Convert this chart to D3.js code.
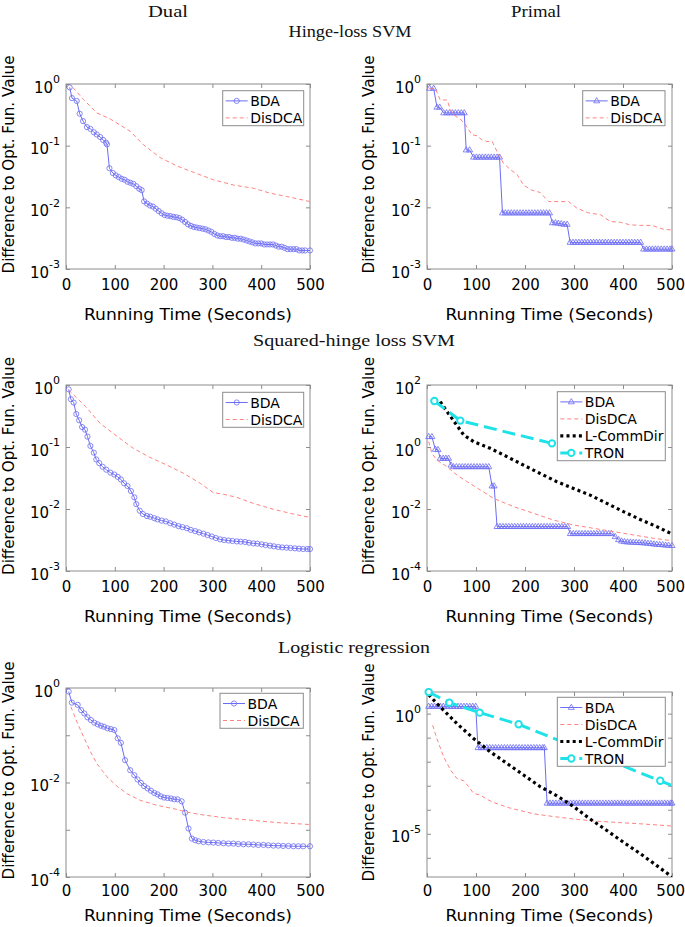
<!DOCTYPE html>
<html><head><meta charset="utf-8">
<script src="https://cdn.jsdelivr.net/npm/d3@7"></script>
<style>body{margin:0;background:#fff}svg{display:block}</style>
</head><body>
<svg id="c" width="685" height="927"></svg>
<script>
// ---------------- DATA ----------------
const colTitles = ["Dual", "Primal"];
const rowTitles = ["Hinge-loss SVM", "Squared-hinge loss SVM", "Logistic regression"];
const xAxisLabel = "Running Time (Seconds)";
const yAxisLabel = "Difference to Opt. Fun. Value";
const xTicks = [0, 100, 200, 300, 400, 500];

// Hinge-loss SVM, dual
const hingeDualBDA = [[7.5,0.88],[12.3,0.59],[22,0.53],[28,0.33],[35,0.25],[43,0.20],[50,0.187],[57,0.165],[63,0.152],[70,0.138],[76,0.124],[82,0.112],[84,0.105],[89,0.043],[96,0.036],[102,0.033],[108,0.031],[114,0.029],[120,0.028],[126,0.026],[132,0.025],[138,0.024],[144,0.022],[150,0.020],[155,0.019],[160,0.0125],[166,0.0115],[172,0.0107],[178,0.0103],[184,0.0095],[190,0.0087],[196,0.0080],[202,0.0075],[208,0.0073],[214,0.0072],[220,0.0070],[226,0.0069],[232,0.0067],[238,0.0063],[244,0.0058],[250,0.0053],[256,0.0050],[262,0.0048],[268,0.0047],[274,0.0046],[280,0.0045],[286,0.0044],[292,0.0042],[298,0.0040],[304,0.0037],[310,0.0035],[316,0.0034],[322,0.0034],[328,0.0033],[334,0.0033],[340,0.0032],[346,0.0032],[352,0.0031],[358,0.0031],[364,0.0030],[370,0.0029],[376,0.0028],[382,0.0027],[388,0.0026],[394,0.0026],[400,0.0026],[406,0.0025],[412,0.0025],[418,0.0025],[424,0.0025],[430,0.0024],[436,0.0023],[442,0.0023],[448,0.0022],[454,0.0021],[460,0.0021],[466,0.0021],[472,0.0021],[478,0.0020],[484,0.0020],[490,0.0020],[500,0.0020]];
const hingeDualDisDCA = [[14,0.88],[36,0.56],[63,0.34],[91,0.27],[132,0.17],[159,0.103],[193,0.064],[227,0.047],[261,0.037],[302,0.028],[343,0.023],[384,0.0204],[418,0.017],[452,0.015],[500,0.0124]];

// Hinge-loss SVM, primal
const hingePrimalBDA = [[5.4,0.85],[13.6,0.85],[20.4,0.42],[25.9,0.42],[34,0.34],[40,0.34],[46,0.34],[52,0.34],[58,0.34],[64,0.34],[70,0.34],[76,0.34],[80,0.085],[87,0.085],[95,0.065],[101,0.065],[107,0.065],[113,0.065],[119,0.065],[125,0.065],[131,0.065],[137,0.065],[143,0.065],[148,0.065],[154,0.0081],[160,0.0081],[166,0.0081],[172,0.0081],[178,0.0081],[184,0.0081],[190,0.0081],[196,0.0081],[202,0.0081],[208,0.0081],[214,0.0081],[220,0.0081],[226,0.0081],[232,0.0081],[238,0.0081],[244,0.0081],[250,0.0081],[256,0.0056],[262,0.0056],[268,0.0055],[274,0.0054],[280,0.0053],[286,0.0053],[292,0.0027],[298,0.0027],[304,0.0027],[310,0.0027],[316,0.0027],[322,0.0027],[328,0.0027],[334,0.0027],[340,0.0027],[346,0.0027],[352,0.0027],[358,0.0027],[364,0.0027],[370,0.0027],[376,0.0027],[382,0.0027],[388,0.0027],[394,0.0027],[400,0.0027],[406,0.0027],[412,0.0027],[418,0.0027],[424,0.0027],[430,0.0027],[436,0.0027],[442,0.0021],[448,0.0021],[454,0.0021],[460,0.0021],[466,0.0021],[472,0.0021],[478,0.0021],[484,0.0021],[490,0.0021],[496,0.0021],[500,0.0021]];
const hingePrimalDisDCA = [[5.4,0.85],[17,0.85],[27,0.55],[41,0.55],[48,0.38],[58,0.30],[68,0.27],[78,0.22],[92,0.15],[102,0.145],[112,0.124],[122,0.117],[133,0.117],[143,0.080],[156,0.052],[170,0.041],[184,0.034],[197,0.023],[214,0.019],[231,0.0174],[248,0.0124],[272,0.0124],[289,0.0124],[306,0.0097],[330,0.0081],[354,0.0076],[374,0.0059],[395,0.0057],[415,0.0052],[435,0.0051],[459,0.0051],[483,0.0044],[500,0.0043]];

// Squared-hinge loss SVM, dual
const sqDualBDA = [[5.5,0.85],[10,0.59],[15.7,0.52],[21,0.34],[27,0.27],[33,0.21],[39,0.19],[44,0.147],[50,0.104],[57,0.081],[62,0.063],[68,0.055],[75,0.048],[82.5,0.043],[91,0.0386],[99,0.036],[106,0.033],[112.5,0.030],[119,0.026],[126,0.0235],[133,0.0195],[140,0.0154],[144,0.0120],[151,0.0094],[157.6,0.0083],[166,0.0077],[172.6,0.0075],[181,0.0071],[187.6,0.0068],[196,0.0065],[204.6,0.0063],[213.5,0.0059],[221.7,0.0056],[230.5,0.0053],[238.7,0.0051],[247.6,0.0049],[255.8,0.0046],[264.7,0.0044],[272.8,0.0042],[281.7,0.0040],[290,0.0038],[298.8,0.0036],[307,0.0034],[315.8,0.00324],[324,0.00316],[332.9,0.0031],[341,0.00305],[350,0.0030],[358,0.00297],[367,0.00294],[375,0.00286],[384,0.00279],[392,0.00276],[401,0.00269],[409,0.00262],[418,0.00256],[426,0.0025],[435,0.00244],[443,0.0024],[452,0.00238],[460,0.00235],[469,0.00232],[477.5,0.00229],[486,0.00226],[494.5,0.00226],[500,0.00226]];
const sqDualDisDCA = [[5.5,0.83],[40,0.45],[70,0.24],[104,0.15],[138,0.095],[172,0.068],[207,0.051],[241,0.0376],[275,0.026],[302,0.0183],[320,0.0175],[350,0.0154],[384,0.0123],[425,0.0099],[466,0.0083],[500,0.0073]];

// Squared-hinge loss SVM, primal
const sqPrimalBDA = [[3.4,2.15],[10,2.15],[17,0.84],[22.4,0.82],[27,0.43],[33,0.43],[38.5,0.43],[44,0.43],[49,0.26],[54,0.23],[60,0.23],[66,0.23],[72,0.23],[78,0.23],[84,0.23],[90,0.23],[96,0.23],[102,0.23],[108,0.23],[114,0.23],[120,0.23],[126,0.23],[132.7,0.055],[137,0.055],[143,0.0027],[149,0.0027],[155,0.0027],[161,0.0027],[167,0.0027],[173,0.0027],[179,0.0027],[185,0.0027],[191,0.0027],[197,0.0027],[203,0.0027],[209,0.0027],[215,0.0027],[221,0.0027],[227,0.0027],[233,0.0027],[239,0.0027],[245,0.0027],[251,0.0027],[257,0.0027],[263,0.0027],[269,0.0027],[275,0.0027],[281,0.0027],[287,0.0027],[292.5,0.0016],[298.5,0.0016],[304.5,0.0016],[310.5,0.0016],[316.5,0.0016],[322.5,0.0016],[328.5,0.0016],[334.5,0.0016],[340.5,0.0016],[346.5,0.0016],[352.5,0.0016],[358.5,0.0016],[364.5,0.0016],[370.5,0.0016],[376.5,0.0016],[384,0.00128],[391,0.00102],[397,0.00092],[403,0.00088],[409,0.00086],[415,0.00085],[421,0.00084],[427,0.00083],[433,0.00082],[439,0.00081],[445,0.0008],[451,0.00078],[457,0.00076],[463,0.00074],[469,0.00072],[475,0.00071],[481,0.0007],[487,0.00068],[493,0.00067],[500,0.00066]];
const sqPrimalDisDCA = [[3.4,1.5],[10,0.63],[20,0.38],[41,0.23],[61,0.125],[82,0.076],[109,0.041],[136,0.022],[177,0.0119],[218,0.0072],[258,0.0044],[299,0.00305],[340,0.00238],[381,0.00186],[422,0.00145],[463,0.00113],[500,0.00095]];
const sqPrimalLCommDir = [[27,29],[41,13.8],[58,5.8],[75,2.44],[95,1.49],[129,0.906],[163,0.49],[197,0.26],[231,0.14],[265,0.076],[299,0.046],[333,0.028],[367,0.0152],[401,0.0082],[435,0.0046],[469,0.0027],[500,0.00156]];
const sqPrimalTRON = [[15,30.5],[68,7.1],[255,1.31]];

// Logistic regression, dual
const logDualBDA = [[5.5,0.84],[12,0.49],[24,0.44],[31,0.34],[37.5,0.29],[44,0.24],[51,0.21],[58,0.184],[65,0.17],[71.6,0.159],[78,0.151],[85,0.14],[92,0.135],[99,0.129],[106,0.086],[112.5,0.069],[121,0.0297],[131.6,0.0182],[140,0.0143],[146.6,0.0116],[153.5,0.0098],[160,0.0084],[167,0.0075],[174,0.0067],[181,0.0060],[187.6,0.0056],[194,0.0051],[201,0.0048],[208,0.0047],[215,0.0046],[221.7,0.0044],[228.5,0.0044],[237,0.0040],[244,0.0023],[251,0.00106],[258,0.00065],[264.7,0.0006],[271.5,0.00057],[281.7,0.00055],[292,0.00054],[302,0.000535],[312,0.000526],[322.6,0.000518],[333,0.00051],[343,0.00051],[353,0.0005],[363.6,0.000493],[374,0.000493],[384,0.000485],[394,0.000477],[404.5,0.000477],[414.7,0.000469],[425,0.000461],[435,0.000461],[445,0.000454],[455.6,0.000454],[466,0.000447],[476,0.000447],[486,0.000447],[500,0.000447]];
const logDualDisDCA = [[10,0.40],[22.5,0.19],[36,0.093],[50,0.045],[63,0.0253],[84,0.0132],[104,0.0084],[125,0.0058],[152,0.0042],[186,0.0033],[227,0.0027],[244,0.0024],[275,0.0021],[323,0.0018],[377,0.0016],[432,0.00142],[500,0.00129]];

// Logistic regression, primal
const logPrimalBDA = [[3.4,2.0],[9.4,2.0],[15.4,2.0],[21.4,2.0],[27.4,2.0],[33.4,2.0],[39.4,2.0],[45.4,2.0],[51.4,2.0],[57.4,2.0],[63.4,2.0],[69.4,2.0],[75.4,2.0],[81.4,2.0],[87.4,2.0],[93.4,2.0],[99.4,2.0],[104,0.038],[110,0.038],[116,0.038],[122,0.038],[128,0.038],[134,0.038],[140,0.038],[146,0.038],[152,0.038],[158,0.038],[164,0.038],[170,0.038],[176,0.038],[182,0.038],[188,0.038],[194,0.038],[200,0.038],[206,0.038],[212,0.038],[218,0.038],[224,0.038],[230,0.038],[236,0.038],[239.5,0.038],[245,1.87e-4],[251,1.87e-4],[257,1.87e-4],[263,1.87e-4],[269,1.87e-4],[275,1.87e-4],[281,1.87e-4],[287,1.87e-4],[293,1.87e-4],[299,1.87e-4],[305,1.87e-4],[311,1.87e-4],[317,1.87e-4],[323,1.87e-4],[329,1.87e-4],[335,1.87e-4],[341,1.87e-4],[347,1.87e-4],[353,1.87e-4],[359,1.87e-4],[365,1.87e-4],[371,1.87e-4],[377,1.87e-4],[383,1.87e-4],[389,1.87e-4],[395,1.87e-4],[401,1.87e-4],[407,1.87e-4],[413,1.87e-4],[419,1.87e-4],[425,1.87e-4],[431,1.87e-4],[437,1.87e-4],[443,1.87e-4],[449,1.87e-4],[455,1.87e-4],[461,1.87e-4],[467,1.87e-4],[473,1.87e-4],[479,1.87e-4],[485,1.87e-4],[491,1.87e-4],[497,1.87e-4],[500,1.87e-4]];
const logPrimalDisDCA = [[11.6,0.33],[20,0.092],[34,0.016],[48,0.0045],[61,0.002],[75,0.0016],[85,9.1e-4],[95,4.8e-4],[109,4.1e-4],[122.5,2.7e-4],[136,2.0e-4],[150,1.6e-4],[170,1.16e-4],[190,9.3e-5],[218,6.7e-5],[258.5,5.2e-5],[299,4.1e-5],[340,3.4e-5],[388,2.95e-5],[435,2.6e-5],[500,2.1e-5]];
const logPrimalLCommDir = [[3.4,6.1],[27,1.89],[61,0.385],[95,0.092],[129,0.0258],[163,0.0085],[197,0.0028],[231,9.1e-4],[265,3.8e-4],[299,1.36e-4],[333,4.1e-5],[367,1.37e-5],[401,4.4e-6],[435,1.5e-6],[469,4.7e-7],[500,1.6e-7]];
const logPrimalTRON = [[3.4,7.9],[45.6,2.86],[107.5,1.1],[187,0.36],[476,0.0016],[520,7.1e-4]];

// ---------------- STYLE / LAYOUT ----------------
const FONT = "DejaVu Sans, Verdana, sans-serif";
const SERIF = "Liberation Serif, Times New Roman, serif";
const AXC = "#8c8c8c";
const styles = {
  "BDA":       {color: "#6c6cf4", width: 1,   dash: null},
  "DisDCA":    {color: "#ff8282", width: 1,   dash: "4 3"},
  "L-CommDir": {color: "#000000", width: 3.2, dash: "3 3.2"},
  "TRON":      {color: "#1fe2e8", width: 3,   dash: "13 6"}
};

const panels = [
  {left:66, right:310, top:84, bottom:269, yLo:-3, yHi:0, labels:[0,-1,-2,-3], ticks:[0,-1,-2,-3],
   series:[["BDA",hingeDualBDA,"o"],["DisDCA",hingeDualDisDCA,null]],
   leg:{x:222.7,y:90.7,w:81}, xlab:51, tickBase:21, ylabX:14, edge:false},
  {left:427, right:672, top:84, bottom:269, yLo:-3, yHi:0, labels:[0,-1,-2,-3], ticks:[0,-1,-2,-3],
   series:[["BDA",hingePrimalBDA,"^"],["DisDCA",hingePrimalDisDCA,null]],
   leg:{x:582.7,y:90.7,w:82.3}, xlab:51, tickBase:21, ylabX:374, edge:true},
  {left:66, right:310, top:385, bottom:571, yLo:-3, yHi:0, labels:[0,-1,-2,-3], ticks:[0,-1,-2,-3],
   series:[["BDA",sqDualBDA,"o"],["DisDCA",sqDualDisDCA,null]],
   leg:{x:222.7,y:392.3,w:81}, xlab:51, tickBase:21, ylabX:14, edge:false},
  {left:427, right:672, top:385, bottom:571, yLo:-4, yHi:2, labels:[2,0,-2,-4], ticks:[2,0,-2,-4],
   series:[["BDA",sqPrimalBDA,"^"],["DisDCA",sqPrimalDisDCA,null],["L-CommDir",sqPrimalLCommDir,null],["TRON",sqPrimalTRON,"c"]],
   leg:{x:557.3,y:391.7,w:108}, xlab:51, tickBase:21, ylabX:374, edge:true},
  {left:66, right:310, top:688, bottom:877, yLo:-4, yHi:0, labels:[0,-2,-4], ticks:[0,-1,-2,-3,-4],
   series:[["BDA",logDualBDA,"o"],["DisDCA",logDualDisDCA,null]],
   leg:{x:220,y:693.3,w:83.3}, xlab:44, tickBase:19, ylabX:14, edge:false},
  {left:427, right:672, top:692, bottom:877, yLo:-6.8, yHi:0.9, labels:[0,-5], ticks:[0,-1,-2,-3,-4,-5,-6],
   series:[["BDA",logPrimalBDA,"^"],["DisDCA",logPrimalDisDCA,null],["L-CommDir",logPrimalLCommDir,null],["TRON",logPrimalTRON,"c"]],
   leg:{x:557.3,y:697.3,w:108}, xlab:44, tickBase:19, ylabX:374, edge:true}
];

// ---------------- DRAW ----------------
const svg = d3.select("#c");
const defs = svg.append("defs");

function markerPath(type) {
  if (type === "o") { const r = 2.6; return `M${r},0A${r},${r} 0 1,1 ${-r},0A${r},${r} 0 1,1 ${r},0Z`; }
  if (type === "^") return "M0,-3.3L3,1.9L-3,1.9Z";
  if (type === "c") { const r = 3.2; return `M${r},0A${r},${r} 0 1,1 ${-r},0A${r},${r} 0 1,1 ${r},0Z`; }
  return null;
}
function styleMarker(sel, type, color) {
  if (type === "c") sel.attr("fill", "#fff").attr("stroke", color).attr("stroke-width", 2);
  else sel.attr("fill", "none").attr("stroke", color).attr("stroke-width", 0.8);
}

// headings
const headings = [
  {t: colTitles[0], x: 168, y: 16.7, w: 40},
  {t: colTitles[1], x: 536, y: 16.7, w: 50},
  {t: rowTitles[0], x: 350, y: 36.7, w: 123},
  {t: rowTitles[1], x: 354, y: 345.5, w: 202},
  {t: rowTitles[2], x: 354, y: 652.7, w: 152}
];
headings.forEach(h => {
  svg.append("text").attr("x", h.x).attr("y", h.y).attr("text-anchor", "middle")
    .attr("font-family", SERIF).attr("font-size", 17).attr("fill", "#111")
    .attr("textLength", h.w).attr("lengthAdjust", "spacingAndGlyphs").text(h.t);
});

panels.forEach((p, i) => {
  const x = d3.scaleLinear().domain([0, 500]).range([p.left, p.right]);
  const y = d3.scaleLog().domain([Math.pow(10, p.yLo), Math.pow(10, p.yHi)]).range([p.bottom, p.top]);
  const g = svg.append("g");
  const W = p.right - p.left, H = p.bottom - p.top;

  defs.append("clipPath").attr("id", "clip" + i).append("rect")
    .attr("x", p.left).attr("y", p.top).attr("width", W).attr("height", H);
  defs.append("clipPath").attr("id", "mclip" + i).append("rect")
    .attr("x", p.left - 4).attr("y", p.top - 4).attr("width", W + 8).attr("height", H + 8);

  // axes (ticks inside)
  const tickVals = p.ticks.map(e => Math.pow(10, e));
  const ax = [
    g.append("g").attr("transform", `translate(0,${p.bottom})`)
      .call(d3.axisBottom(x).tickValues(xTicks).tickSize(-4).tickPadding(p.tickBase - 10.6).tickFormat(d3.format("d"))),
    g.append("g").attr("transform", `translate(0,${p.top})`)
      .call(d3.axisTop(x).tickValues(xTicks).tickSize(-4).tickFormat("")),
    g.append("g").attr("transform", `translate(${p.left},0)`)
      .call(d3.axisLeft(y).tickValues(tickVals).tickSize(-4).tickFormat("")),
    g.append("g").attr("transform", `translate(${p.right},0)`)
      .call(d3.axisRight(y).tickValues(tickVals).tickSize(-4).tickFormat(""))
  ];
  ax.forEach(a => {
    a.select(".domain").remove();
    a.selectAll("line").attr("stroke", AXC);
    a.attr("font-family", FONT).attr("font-size", 15);
    a.selectAll("text").attr("fill", "#000");
  });
  // keep the last x label of right-hand panels inside the page
  if (p.edge) {
    ax[0].selectAll(".tick").filter(d => d === 500).select("text")
      .attr("text-anchor", "end").attr("dx", 12.5);
  }

  // y tick labels 10^e
  p.labels.forEach(e => {
    const ty = y(Math.pow(10, e));
    const t = g.append("text").attr("x", p.left - 6).attr("y", ty + 8.5).attr("text-anchor", "end")
      .attr("font-family", FONT).attr("font-size", 15).attr("fill", "#000");
    t.append("tspan").text("10");
    t.append("tspan").attr("dy", -9.2).attr("font-size", 11).text(String(e));
  });

  // box
  g.append("rect").attr("x", p.left).attr("y", p.top).attr("width", W).attr("height", H)
    .attr("fill", "none").attr("stroke", AXC).attr("stroke-width", 1);

  // series
  const line = d3.line().x(d => x(d[0])).y(d => y(d[1]));
  p.series.forEach(([name, data, mk]) => {
    const st = styles[name];
    g.append("path").datum(data).attr("d", line).attr("fill", "none")
      .attr("stroke", st.color).attr("stroke-width", st.width)
      .attr("stroke-dasharray", st.dash).attr("clip-path", `url(#clip${i})`);
    if (mk) {
      const m = g.append("g").attr("clip-path", `url(#mclip${i})`).selectAll("path").data(data).join("path")
        .attr("transform", d => `translate(${x(d[0])},${y(d[1])})`).attr("d", markerPath(mk));
      styleMarker(m, mk, st.color);
    }
  });

  // legend
  const n = p.series.length;
  const L = p.leg;
  const lg = g.append("g");
  lg.append("rect").attr("x", L.x).attr("y", L.y).attr("width", L.w).attr("height", 17 * n + 1)
    .attr("fill", "#fff").attr("stroke", AXC).attr("stroke-width", 1);
  p.series.forEach(([name, data, mk], k) => {
    const st = styles[name];
    const cy = L.y + 10.2 + 17 * k;
    lg.append("line").attr("x1", L.x + 3).attr("x2", L.x + 25).attr("y1", cy).attr("y2", cy)
      .attr("stroke", st.color).attr("stroke-width", st.width).attr("stroke-dasharray", st.dash);
    if (mk) {
      const m = lg.append("path").attr("transform", `translate(${L.x + 14},${cy})`).attr("d", markerPath(mk));
      styleMarker(m, mk, st.color);
    }
    lg.append("text").attr("x", L.x + 27.5).attr("y", cy + 5.2).attr("font-family", FONT)
      .attr("font-size", 14).attr("fill", "#000").text(name);
  });

  // axis labels
  g.append("text").attr("x", (p.left + p.right) / 2).attr("y", p.bottom + p.xlab).attr("text-anchor", "middle")
    .attr("font-family", FONT).attr("font-size", 16.5).attr("fill", "#000")
    .attr("textLength", 208).attr("lengthAdjust", "spacingAndGlyphs").text(xAxisLabel);
  const cy = (p.top + p.bottom) / 2 - 12;
  g.append("text").attr("transform", `translate(${p.ylabX},${cy}) rotate(-90)`).attr("text-anchor", "middle")
    .attr("font-family", FONT).attr("font-size", 16).attr("fill", "#000")
    .attr("textLength", 218).attr("lengthAdjust", "spacingAndGlyphs").text(yAxisLabel);
});
</script>
</body></html>
